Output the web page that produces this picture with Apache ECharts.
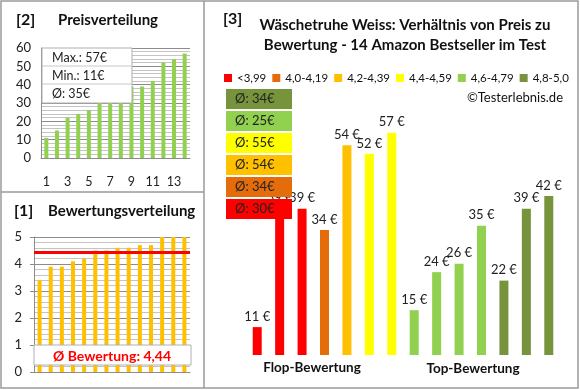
<!DOCTYPE html>
<html><head><meta charset="utf-8">
<script src="https://cdn.jsdelivr.net/npm/echarts@6/dist/echarts.min.js"></script>
<style>html,body{margin:0;padding:0;background:#fff}#c{width:580px;height:390px}</style>
</head><body><div id="c"></div>
<script>
// ---- data ----
const productIds = ['1','2','3','4','5','6','7','8','9','10','11','12','13','14'];
const ratings = [3.4,3.9,3.9,4.1,4.2,4.5,4.5,4.6,4.6,4.7,4.7,5.0,5.0,5.0];
const prices  = [11,39,39,34,54,52,57,15,24,26,35,22,39,42];
const groupNames  = ['<3,99','4,0-4,19','4,2-4,39','4,4-4,59','4,6-4,79','4,8-5,0'];
const groupLower  = [0,4.0,4.2,4.4,4.6,4.8];
const groupColors = ['#FF0000','#E46C0A','#FFC000','#FFFF00','#92D050','#77933C'];
const priceTicks  = [0,10,20,30,40,50,60];
const ratingTicks = [0,1,2,3,4,5];

// ---- derived ----
const FONT = 'Lato, "Open Sans", sans-serif';
const sortedPrices = prices.slice().sort((a,b)=>a-b);
const groupOf = r => { let g = 0; groupLower.forEach((v,i)=>{ if (r >= v) g = i; }); return g; };
const groups = ratings.map(groupOf);
const avgPrice = prices.reduce((a,b)=>a+b,0)/prices.length;
const avgRating = ratings.reduce((a,b)=>a+b,0)/ratings.length;
const groupAvg = groupNames.map((_,g)=>{
  const p = prices.filter((_,i)=>groups[i]===g);
  return Math.round(p.reduce((a,b)=>a+b,0)/p.length);
});

const chart = echarts.init(document.getElementById('c'), null, {renderer:'canvas'});

const grey = '#9a9a9a';
const major = '#8c8c8c', minor = '#c4c4c4';
const els = [];
// frame
els.push({type:'rect', shape:{x:1,y:1,width:577,height:387}, style:{fill:null, stroke:grey, lineWidth:1.5}, z:1});
els.push({type:'line', shape:{x1:204,y1:1,x2:204,y2:388}, style:{stroke:grey, lineWidth:1.5}, z:1});
els.push({type:'line', shape:{x1:1,y1:192,x2:204,y2:192}, style:{stroke:grey, lineWidth:1.5}, z:1});
const txt = (x,y,t,font,fill,align) => ({type:'text', x, y, z:120,
  style:{text:t, font, fill: fill||'#111', textAlign: align||'left', textVerticalAlign:'middle'}});
// titles
els.push(txt(16,20,'[2]','bold 16px '+FONT));
els.push(txt(58,20,'Preisverteilung','bold 15px '+FONT));
els.push(txt(14,211,'[1]','bold 16px '+FONT));
els.push(txt(48,211,'Bewertungsverteilung','bold 15px '+FONT));
els.push(txt(223,19,'[3]','bold 16px '+FONT));
els.push(txt(405,25,'Wäschetruhe Weiss: Verhältnis von Preis zu','bold 15px '+FONT,'#111','center'));
els.push(txt(405,45,'Bewertung - 14 Amazon Bestseller im Test','bold 15px '+FONT,'#111','center'));
els.push(txt(563,98,'©Testerlebnis.de','13px '+FONT,'#111','right'));
els.push(txt(312,368,'Flop-Bewertung','bold 13.5px '+FONT,'#111','center'));
els.push(txt(473,369,'Top-Bewertung','bold 13.5px '+FONT,'#111','center'));
// price stats box
els.push({type:'rect', shape:{x:42,y:48,width:90,height:55}, style:{fill:'#fff', stroke:'#b0b0b0', lineWidth:1}, z:110});
els.push({type:'line', shape:{x1:42,y1:66,x2:132,y2:66}, style:{stroke:'#c8c8c8', lineWidth:1}, z:111});
els.push({type:'line', shape:{x1:42,y1:84,x2:132,y2:84}, style:{stroke:'#c8c8c8', lineWidth:1}, z:111});
els.push(txt(52,58,'Max.: '+Math.max(...prices)+'€','12.5px '+FONT,'#222'));
els.push(txt(52,76,'Min.: '+Math.min(...prices)+'€','12.5px '+FONT,'#222'));
els.push(txt(52,94,'Ø: '+Math.round(avgPrice)+'€','12.5px '+FONT,'#222'));
// rating avg box
els.push({type:'rect', shape:{x:34,y:345,width:157,height:20}, style:{fill:'#fff', stroke:'#b0b0b0', lineWidth:1}, z:110});
els.push(txt(112,356,'Ø Bewertung: '+avgRating.toFixed(2).replace('.',','),'bold 14px '+FONT,'#FF0000','center'));
// group average boxes (top: best group)
for (let k=0;k<6;k++){
  const g = 5-k;
  const y = 89 + k*22;
  els.push({type:'rect', shape:{x:226,y:y,width:66,height:20}, style:{fill:groupColors[g]}, z:110});
  els.push(txt(235,y+10,'Ø: '+groupAvg[g]+'€','13px '+FONT,'#222'));
}

const groupSeries = groupNames.map((name,g)=>({
  name, type:'bar', xAxisIndex:2, yAxisIndex:2, barWidth:9, barGap:'-100%',
  itemStyle:{color:groupColors[g]},
  label:{show:true, position:'top', distance:4, formatter:p=>p.value+' €', fontSize:13, fontFamily:FONT, color:'#222'},
  data: prices.map((v,i)=> groups[i]===g ? v : null)
}));

chart.setOption({
  animation:false,
  textStyle:{fontFamily:FONT},
  legend:{data:groupNames, left:224, top:72, width:360, padding:0, itemWidth:8, itemHeight:8, itemGap:6, icon:'rect',
    selectedMode:false, textStyle:{fontSize:11.5, color:'#111', fontFamily:FONT}},
  grid:[
    {left:41, top:48, width:149, height:110},
    {left:34, top:237, width:156, height:135},
    {left:246, top:120, width:314, height:235}
  ],
  xAxis:[
    {gridIndex:0, type:'category', data:productIds, axisTick:{show:false},
      axisLine:{lineStyle:{color:major}}, axisLabel:{interval:1, margin:17, fontSize:12.5, color:'#222'}},
    {gridIndex:1, type:'category', data:productIds, axisTick:{show:false},
      axisLine:{lineStyle:{color:major}}, axisLabel:{show:false}},
    {gridIndex:2, type:'category', data:productIds, show:false}
  ],
  yAxis:[
    {gridIndex:0, type:'value', min:priceTicks[0], max:priceTicks[priceTicks.length-1], interval:10,
      axisLine:{show:true, lineStyle:{color:major}}, axisTick:{show:false},
      axisLabel:{fontSize:13, color:'#222', margin:10},
      splitLine:{lineStyle:{color:major}}, minorSplitLine:{show:true, lineStyle:{color:minor}}, minorTick:{show:false, splitNumber:5}},
    {gridIndex:1, type:'value', min:ratingTicks[0], max:ratingTicks[ratingTicks.length-1], interval:1,
      axisLine:{show:true, lineStyle:{color:major}}, axisTick:{show:true, length:4, lineStyle:{color:major}},
      axisLabel:{fontSize:13, color:'#222', margin:12},
      splitLine:{lineStyle:{color:major}}, minorSplitLine:{show:true, lineStyle:{color:minor}}, minorTick:{show:false, splitNumber:5}},
    {gridIndex:2, type:'value', min:4.4, max:60, show:false, splitLine:{show:false}}
  ],
  series:[
    {type:'bar', xAxisIndex:0, yAxisIndex:0, barWidth:4, itemStyle:{color:'#92D050'}, data:sortedPrices},
    {type:'bar', xAxisIndex:1, yAxisIndex:1, barWidth:4, itemStyle:{color:'#FFC000'}, data:ratings,
      markLine:{silent:true, symbol:['none','none'], label:{show:false}, animation:false,
        lineStyle:{color:'#FF0000', width:3, type:'solid'}, data:[{yAxis:avgRating}]}},
    ...groupSeries
  ],
  graphic:{elements:els}
});
</script></body></html>
